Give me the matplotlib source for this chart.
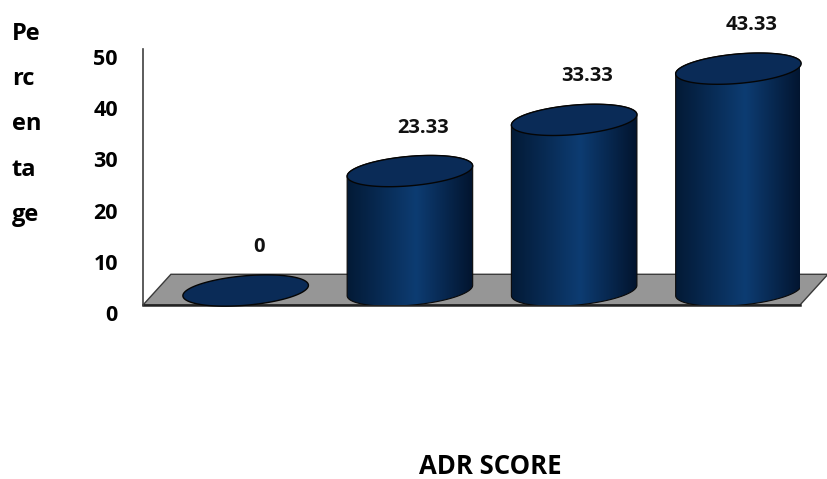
import numpy as np
import matplotlib.pyplot as plt
from matplotlib.patches import Polygon
from matplotlib.transforms import ScaledTranslation

# dati
values = [0, 23.33, 33.33, 43.33]
value_labels = ['0', '23.33', '33.33', '43.33']
y_ticks = [0, 10, 20, 30, 40, 50]
y_label = 'Pe\nrc\nen\nta\nge'
x_label = 'ADR SCORE'

plt.rcParams['font.family'] = ['Open Sans', 'DejaVu Sans']

fig = plt.figure(figsize=(8.28, 4.79), dpi=100)
ax = fig.add_axes([143 / 828, 1 - 305 / 479, 657 / 828, 256 / 479])
n = len(values)
ax.set_xlim(-0.5, n - 0.5)
ax.set_ylim(0, 50)

# pixel per unita' di dato (per disegnare ellissi ruotate)
px_x = 657 / n
px_y = 256 / 50

# pavimento in finta prospettiva
depth_x, depth_y = 0.17, 6.0
x0, x1 = -0.5, n - 0.5
floor = Polygon([(x0, 0), (x1, 0), (x1 + depth_x, depth_y), (x0 + depth_x, depth_y)],
                closed=True, fc='#969696', ec='#3a3a3a', lw=1, clip_on=False, zorder=1)
ax.add_patch(floor)
ax.plot([x0, x1], [0, 0], color='#222222', lw=1.8, clip_on=False, zorder=2)

# cilindri
base = 2.83
off_x = 0.125
A, B = 63.0, 14.7          # semiassi in pixel
theta = np.deg2rad(5)      # rotazione ellisse
t0 = np.arctan(-(B / A) * np.tan(theta))


def ellipse(cx, cy, t):
    u = A * np.cos(t)
    w = B * np.sin(t)
    px = u * np.cos(theta) - w * np.sin(theta)
    py = u * np.sin(theta) + w * np.cos(theta)
    return cx + px / px_x, cy + py / px_y


half_w = np.sqrt((A * np.cos(theta)) ** 2 + (B * np.sin(theta)) ** 2) / px_x

pos = np.array([0, 0.55, 1.0])
col_l = np.array([3, 26, 54]) / 255
col_m = np.array([13, 60, 114]) / 255
col_r = np.array([2, 20, 46]) / 255
grad = np.zeros((1, 200, 3))
xs = np.linspace(0, 1, 200)
for c in range(3):
    grad[0, :, c] = np.interp(xs, pos, [col_l[c], col_m[c], col_r[c]])

for i, (v, lab) in enumerate(zip(values, value_labels)):
    cx = i + off_x
    top = base + v
    if v > 0:
        t1 = np.linspace(np.pi + t0, 2 * np.pi + t0, 100)
        t2 = np.linspace(t0, np.pi + t0, 100)
        bx, by = ellipse(cx, base, t1)
        tx, ty = ellipse(cx, top, t2)
        pts = np.column_stack([np.concatenate([bx, tx]), np.concatenate([by, ty])])
        body = Polygon(pts, closed=True, fc='none', ec='#0a0a0a', lw=0.8, zorder=4)
        ax.add_patch(body)
        im = ax.imshow(grad, extent=[cx - half_w, cx + half_w, base - 4, top + 4],
                       aspect='auto', zorder=3, interpolation='bilinear')
        im.set_clip_path(body)
    t = np.linspace(0, 2 * np.pi, 200)
    ex, ey = ellipse(cx, top, t)
    cap = Polygon(np.column_stack([ex, ey]), closed=True, fc='#0a2b57', ec='#050505',
                  lw=1, zorder=5, clip_on=False)
    ax.add_patch(cap)
    ax.text(cx + 0.08, top + 8.5, lab, ha='center', va='center', fontsize=14.5,
            fontweight='bold', color='#111111', zorder=6)

ax.set_xlim(-0.5, n - 0.5)
ax.set_ylim(0, 50)

# assi
for sp in ['top', 'right', 'bottom']:
    ax.spines[sp].set_visible(False)
ax.spines['left'].set_color('#404040')
ax.spines['left'].set_linewidth(1.2)
ax.set_xticks([])
ax.set_yticks(y_ticks)
ax.set_yticklabels([str(v) for v in y_ticks], fontsize=15.5, fontweight='bold')
ax.tick_params(axis='y', length=0, pad=18)
for tl in ax.get_yticklabels():
    tl.set_transform(tl.get_transform() + ScaledTranslation(0, -8 / 100, fig.dpi_scale_trans))
ax.patch.set_visible(False)

fig.text(12 / 828, 1 - 22 / 479, y_label, va='top', ha='left', fontsize=17,
         fontweight='bold', linespacing=2.18)
fig.text(490 / 828, 1 - 467 / 479, x_label, ha='center', va='center', fontsize=18.5,
         fontweight='bold')

fig.savefig('out.png', dpi=100)
